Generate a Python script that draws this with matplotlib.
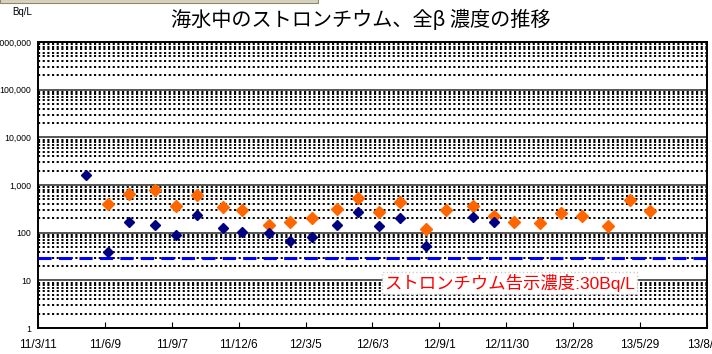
import numpy as np
import matplotlib
matplotlib.use('Agg')
import matplotlib.pyplot as plt
import matplotlib.dates as mdates
from matplotlib.patches import Rectangle
from matplotlib.ticker import LogLocator, FixedLocator, NullFormatter

plt.rcParams['font.family'] = ['Liberation Sans', 'Noto Sans CJK JP', 'DejaVu Sans']

# ストロンチウム (Sr-90)
sr_dates = ['2011-05-15', '2011-06-13', '2011-07-11', '2011-08-15', '2011-09-13',
            '2011-10-11', '2011-11-15', '2011-12-10', '2012-01-16', '2012-02-13',
            '2012-03-13', '2012-04-16', '2012-05-15', '2012-06-12', '2012-07-10',
            '2012-08-14', '2012-10-16', '2012-11-13']
sr_values = [1600, 39, 165, 143, 89, 239, 125, 105, 97, 66,
             80, 145, 274, 137, 203, 53, 215, 166]

# 全β
beta_dates = ['2011-06-13', '2011-07-11', '2011-08-15', '2011-09-13', '2011-10-11',
              '2011-11-15', '2011-12-10', '2012-01-16', '2012-02-13', '2012-03-13',
              '2012-04-16', '2012-05-15', '2012-06-12', '2012-07-10', '2012-08-14',
              '2012-09-10', '2012-10-16', '2012-11-13', '2012-12-11', '2013-01-15',
              '2013-02-12', '2013-03-12', '2013-04-16', '2013-05-15', '2013-06-11']
beta_values = [405, 635, 775, 370, 608, 346, 292, 147, 168, 203,
               316, 545, 274, 450, 117, 305, 370, 228, 166, 160,
               256, 225, 136, 480, 283]

x_start = '2011-03-11'
x_end = '2013-08-27'
tick_step_days = 90
limit_value = 30
limit_label = 'ストロンチウム告示濃度:30Bq/L'
title = '海水中のストロンチウム、全β 濃度の推移'

sr_x = mdates.datestr2num(sr_dates)
beta_x = mdates.datestr2num(beta_dates)
x0 = mdates.datestr2num(x_start)
x1 = mdates.datestr2num(x_end)

fig = plt.figure(figsize=(7.12, 3.54), dpi=100)
ax = fig.add_axes([38 / 712, 26 / 354, 669 / 712, 286 / 354])

ax.set_yscale('log')
ax.set_ylim(1, 1e6)
ax.set_xlim(x0, x1)

# grid: solid at decades, dotted in between
ax.yaxis.set_major_locator(FixedLocator([10 ** k for k in range(7)]))
ax.yaxis.set_minor_locator(LogLocator(base=10, subs=np.arange(2, 10), numticks=20))
ax.yaxis.set_minor_formatter(NullFormatter())
ax.grid(which='minor', axis='y', color='black', linestyle=(0, (1.1, 1.3)), linewidth=1.4)
ax.grid(which='major', axis='y', color='#555555', linestyle='-', linewidth=1.4)
ax.set_axisbelow(True)

ax.yaxis.set_major_formatter(plt.FuncFormatter(lambda v, p: '{:,.0f}'.format(v)))
ax.tick_params(axis='y', which='both', length=0, labelsize=6.3, pad=5)

ticks = np.arange(x0, x1 + 1, tick_step_days)
ax.set_xticks(ticks)
ax.set_xticklabels(['{}/{}/{}'.format(d.year % 100, d.month, d.day)
                    for d in mdates.num2date(ticks)])
ax.tick_params(axis='x', direction='in', length=4, width=0.8, labelsize=8.5, pad=8)

ax.axhline(limit_value, color='#0000ff', linestyle=(0, (4.3, 2.4)), linewidth=2.2, zorder=3)

ax.plot(beta_x, beta_values, 'D', color='#ff6600', markersize=6.5, zorder=4)
ax.plot(sr_x, sr_values, 'D', color='#000080', markersize=5.5, zorder=5)

for s in ax.spines.values():
    s.set_linewidth(1.4)
    s.set_color('black')

ax.text(0.705, 0.157, limit_label, transform=ax.transAxes, color='#ff0000',
        fontsize=12.5, ha='center', va='center', zorder=6,
        bbox=dict(facecolor='white', edgecolor='#cccccc', linestyle=':', pad=1.5))

fig.text(361 / 712, 1 - 20 / 354, title, fontsize=14.5, ha='center', va='center',
         family=['Noto Sans CJK JP', 'DejaVu Sans'])
fig.text(22 / 712, 1 - 12 / 354, 'Bq/L', fontsize=7, ha='center', va='center')

fig.add_artist(Rectangle((0, 1 - 3 / 354), 318 / 712, 4 / 354, transform=fig.transFigure,
                         facecolor='#d8d4c0', edgecolor='#8c8868', linewidth=0.8))

fig.savefig('out.png', dpi=100)
